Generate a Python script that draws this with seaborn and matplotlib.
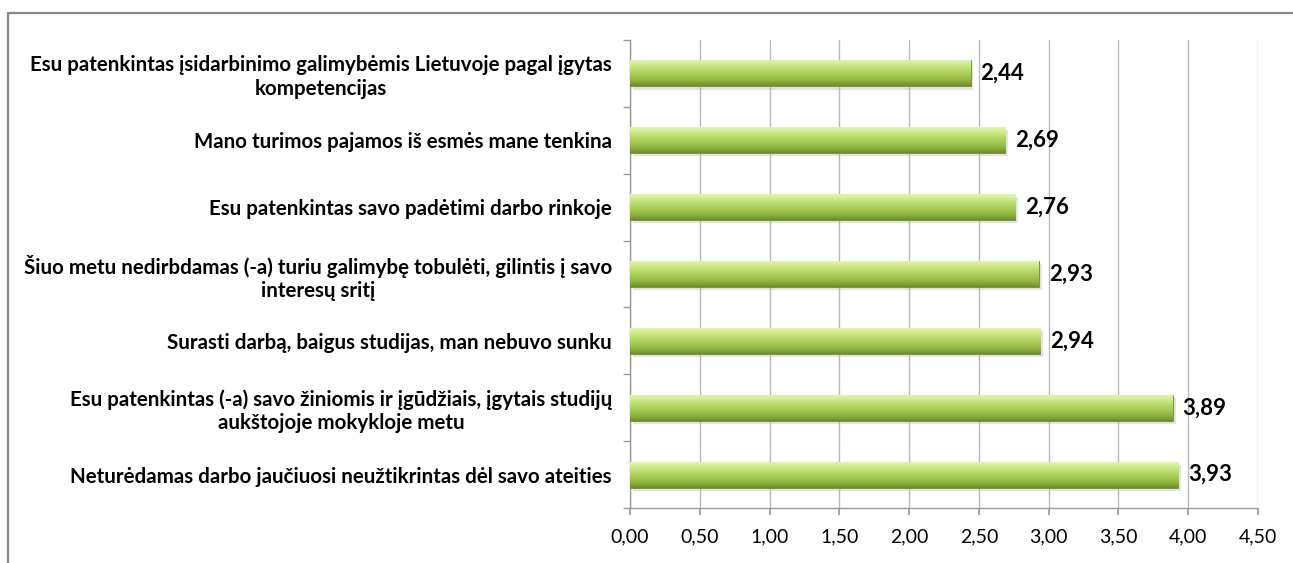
import matplotlib
matplotlib.use("Agg")
import matplotlib.pyplot as plt
import matplotlib.ticker as mticker
from matplotlib.colors import LinearSegmentedColormap
from matplotlib.lines import Line2D
from matplotlib.patches import Rectangle
import seaborn as sns
import pandas as pd
import numpy as np

# Data
statements = [
    "Esu patenkintas įsidarbinimo galimybėmis Lietuvoje pagal įgytas\nkompetencijas",
    "Mano turimos pajamos iš esmės mane tenkina",
    "Esu patenkintas savo padėtimi darbo rinkoje",
    "Šiuo metu nedirbdamas (-a) turiu galimybę tobulėti, gilintis į savo\ninteresų sritį",
    "Surasti darbą, baigus studijas, man nebuvo sunku",
    "Esu patenkintas (-a) savo žiniomis ir įgūdžiais, įgytais studijų\naukštojoje mokykloje metu",
    "Neturėdamas darbo jaučiuosi neužtikrintas dėl savo ateities",
]
scores = [2.44, 2.69, 2.76, 2.93, 2.94, 3.89, 3.93]
x_ticks = [0.0, 0.5, 1.0, 1.5, 2.0, 2.5, 3.0, 3.5, 4.0, 4.5]

df = pd.DataFrame({"statement": statements, "score": scores})

sns.set_theme(style="white")
plt.rcParams['font.family'] = ['Lato', 'DejaVu Sans']

W, H = 1293, 563
fig = plt.figure(figsize=(W / 100, H / 100), dpi=100)
ax = fig.add_axes([630 / W, 1 - 508 / H, 628 / W, 468 / H])

sns.barplot(data=df, x="score", y="statement", orient="h", color="#9dc445",
            width=0.39, ax=ax, zorder=3)

# cylinder-like green gradient over each bar
grad_cmap = LinearSegmentedColormap.from_list(
    "bar", ["#e6f7b4", "#d0ea8e", "#b8da6a", "#a5ca52", "#90b440", "#6e8f2c"])
grad = np.linspace(0, 1, 64).reshape(-1, 1)
for p in ax.patches:
    x0, y0 = p.get_x(), p.get_y()
    w, h = p.get_width(), p.get_height()
    # soft shadow below the bar
    ax.add_patch(Rectangle((x0 + 0.02, y0 + h * 0.12), w, h, color="#b0b0b0",
                           alpha=0.35, lw=0, zorder=2))
    im = ax.imshow(grad, cmap=grad_cmap, aspect="auto",
                   extent=(x0, x0 + w, y0 + h, y0), zorder=4)
    im.set_clip_path(p)
    p.set_edgecolor("#6f8f2a")
    p.set_linewidth(0.6)

for i, v in enumerate(scores):
    ax.text(v + 0.07, i, f"{v:.2f}".replace(".", ","), va="center", ha="left",
            fontsize=16, fontweight="bold", color="black", zorder=5)

ax.set_xlim(0, 4.5)
ax.set_ylim(len(scores) - 0.5, -0.5)
ax.set_xticks(x_ticks)
ax.xaxis.set_major_formatter(mticker.FuncFormatter(lambda v, _: f"{v:.2f}".replace(".", ",")))
ax.set_yticks(np.arange(len(scores) + 1) - 0.5, minor=True)
ax.set_yticks(range(len(scores)))
ax.set_yticklabels(statements, fontsize=14.8, fontweight="bold", color="black",
                   ha="right", multialignment="center")
ax.set_xlabel("")
ax.set_ylabel("")

ax.grid(axis="x", color="#b8b8b8", lw=1.0, zorder=0)
for s in ["top", "right"]:
    ax.spines[s].set_visible(False)
for s in ["left", "bottom"]:
    ax.spines[s].set_color("#9a9a9a")
    ax.spines[s].set_linewidth(1.0)
ax.tick_params(axis="x", which="major", length=5, color="#9a9a9a",
               labelsize=14, labelcolor="black", pad=10, bottom=True)
ax.tick_params(axis="y", which="major", length=0, pad=13)
ax.tick_params(axis="y", which="minor", length=5, color="#9a9a9a", left=True)

# outer chart frame (top and left edges visible)
fig.add_artist(Line2D([8 / W, 1.0], [1 - 13 / H, 1 - 13 / H],
                      transform=fig.transFigure, color="#888888", lw=1.6))
fig.add_artist(Line2D([8 / W, 8 / W], [0.0, 1 - 13 / H],
                      transform=fig.transFigure, color="#888888", lw=1.6))

fig.savefig("out.png", dpi=100, facecolor="white")
plt.close(fig)
